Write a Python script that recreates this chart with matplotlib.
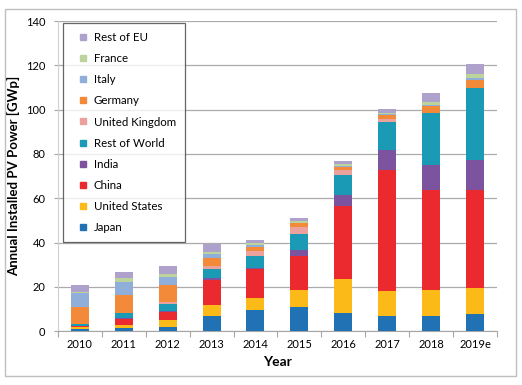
import matplotlib
matplotlib.use("Agg")
import matplotlib.pyplot as plt
from matplotlib.patches import Rectangle
from matplotlib.lines import Line2D
import numpy as np

plt.rcParams['font.family'] = ['Lato', 'DejaVu Sans']

years = ['2010', '2011', '2012', '2013', '2014', '2015', '2016', '2017', '2018', '2019e']

# stacked series, bottom to top (GWp)
japan = [1.0, 1.2, 1.7, 6.8, 9.5, 11.0, 8.0, 6.8, 6.8, 7.5]
united_states = [0.9, 1.7, 3.3, 5.0, 5.3, 7.5, 15.4, 11.3, 11.7, 12.0]
china = [0.5, 2.6, 3.8, 11.3, 13.1, 15.4, 33.1, 54.7, 45.2, 44.1]
india = [0.1, 0.3, 0.5, 1.0, 0.8, 2.7, 5.0, 9.0, 11.3, 13.6]
rest_of_world = [0.6, 2.3, 3.0, 4.0, 5.2, 7.1, 9.0, 12.8, 23.3, 32.4]
united_kingdom = [0.1, 0.2, 0.9, 1.5, 2.4, 3.5, 2.2, 1.0, 0.3, 0.3]
germany = [7.5, 8.1, 7.7, 3.6, 1.9, 1.5, 1.6, 1.9, 3.0, 3.5]
italy = [6.3, 5.7, 3.5, 1.6, 0.5, 0.3, 0.5, 0.4, 0.6, 0.8]
france = [0.7, 2.0, 1.5, 0.8, 0.9, 0.9, 0.8, 0.5, 1.4, 1.8]
rest_of_eu = [3.2, 2.6, 3.6, 3.8, 1.6, 1.0, 1.3, 1.8, 3.8, 4.5]

series = [
    ('Japan', japan, '#2171B5'),
    ('United States', united_states, '#FBBA17'),
    ('China', china, '#EA2A2E'),
    ('India', india, '#7B539E'),
    ('Rest of World', rest_of_world, '#1B9AB6'),
    ('United Kingdom', united_kingdom, '#EBA19C'),
    ('Germany', germany, '#F28A3A'),
    ('Italy', italy, '#8FAFDA'),
    ('France', france, '#BCD39C'),
    ('Rest of EU', rest_of_eu, '#AEA2CC'),
]

fig = plt.figure(figsize=(5.22, 3.85), dpi=100)
ax = fig.add_axes([0.111, 0.140, 0.841, 0.805])

# outer frame around the whole chart
fig.patches.append(Rectangle((0.010, 0.023), 0.979, 0.953, transform=fig.transFigure,
                             fill=False, edgecolor='#BFBFBF', linewidth=1.0))

x = np.arange(len(years))
bottom = np.zeros(len(years))
for name, vals, color in series:
    ax.bar(x, vals, width=0.41, bottom=bottom, color=color, label=name, zorder=3)
    bottom += np.array(vals)

ax.set_xlim(-0.5, len(years) - 0.5)
ax.set_ylim(0, 140)
ax.set_yticks(range(0, 141, 20))
ax.set_xticks(x)
ax.set_xticklabels(years)
ax.set_xticks(np.arange(-0.5, len(years), 1.0), minor=True)
ax.tick_params(axis='x', which='major', length=0, labelsize=8, pad=6)
ax.tick_params(axis='x', which='minor', length=4, color='#A6A6A6', width=0.8)
ax.tick_params(axis='y', length=3, color='#A6A6A6', labelsize=8, pad=6)

ax.grid(axis='y', color='#ABABAB', linewidth=0.9, zorder=0)
for s in ['top', 'right']:
    ax.spines[s].set_visible(False)
ax.spines['left'].set_color('#D0D0D0')
ax.spines['bottom'].set_color('#A6A6A6')

ax.set_ylabel('Annual Installed PV Power [GWp]', fontsize=9.5, fontweight='bold', labelpad=4)
ax.set_xlabel('Year', fontsize=10, fontweight='bold', labelpad=4)

# square markers as legend handles, top entry first
handles = [Line2D([], [], linestyle='none', marker='s', markersize=4.6,
                  markerfacecolor=c, markeredgecolor=c) for _, _, c in series][::-1]
labels = [s[0] for s in series][::-1]
leg = ax.legend(handles, labels, loc='upper left',
                bbox_to_anchor=(0.012, 0.995), fontsize=8.3, frameon=True, fancybox=False,
                handlelength=1.85, handletextpad=0.0,
                labelspacing=0.88, borderpad=0.8, borderaxespad=0)
leg.get_frame().set_edgecolor('#404040')
leg.get_frame().set_linewidth(0.9)

fig.savefig('out.png', dpi=100)
